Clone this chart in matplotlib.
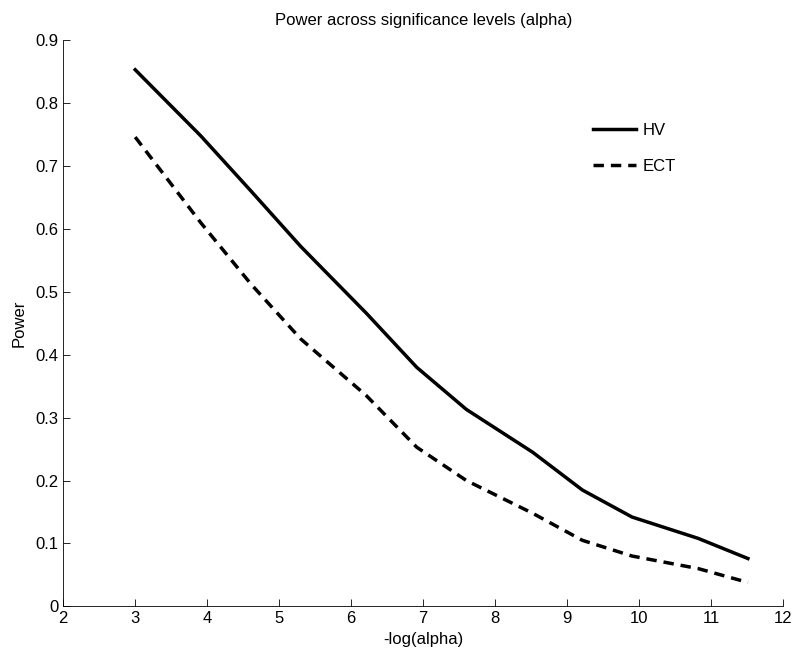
import numpy as np
import matplotlib.pyplot as plt

plt.rcParams['font.family'] = ['Liberation Sans', 'DejaVu Sans']

# -log(alpha) for alpha = 0.05, 0.02, 0.01, ..., 1e-5
neg_log_alpha = [3.00, 3.91, 4.61, 5.30, 6.21, 6.91, 7.60, 8.52, 9.21, 9.90, 10.82, 11.51]
power_hv = [0.853, 0.748, 0.660, 0.572, 0.466, 0.380, 0.313, 0.245, 0.185, 0.142, 0.108, 0.076]
power_ect = [0.746, 0.610, 0.512, 0.425, 0.335, 0.253, 0.200, 0.148, 0.105, 0.080, 0.060, 0.038]

fig = plt.figure(figsize=(8, 6.7), dpi=100)
ax = fig.add_axes([0.079, 0.095, 0.900, 0.845])

ax.plot(neg_log_alpha, power_hv, 'k-', lw=2.5, label='HV')
ax.plot(neg_log_alpha, power_ect, 'k--', lw=2.5, dashes=(3, 2), label='ECT')

ax.set_xlim(2, 12)
ax.set_ylim(0, 0.9)
ax.set_xticks(range(2, 13))
ax.set_yticks(np.arange(0, 0.91, 0.1))
ax.set_yticklabels(['0', '0.1', '0.2', '0.3', '0.4', '0.5', '0.6', '0.7', '0.8', '0.9'])
ax.tick_params(direction='in', length=5, labelsize=12, width=0.6)
ax.spines['top'].set_visible(False)
ax.spines['right'].set_visible(False)
ax.spines['left'].set_linewidth(0.6)
ax.spines['bottom'].set_linewidth(0.6)

ax.set_xlabel('-log(alpha)', fontsize=12, labelpad=4)
ax.set_ylabel('Power', fontsize=12, labelpad=6)
ax.set_title('Power across significance levels (alpha)', fontsize=12, pad=11)

ax.legend(loc='upper left', bbox_to_anchor=(0.715, 0.88), frameon=False,
          fontsize=12, handlelength=2.6, handletextpad=0.4, labelspacing=1.25)

fig.savefig('out.png')
